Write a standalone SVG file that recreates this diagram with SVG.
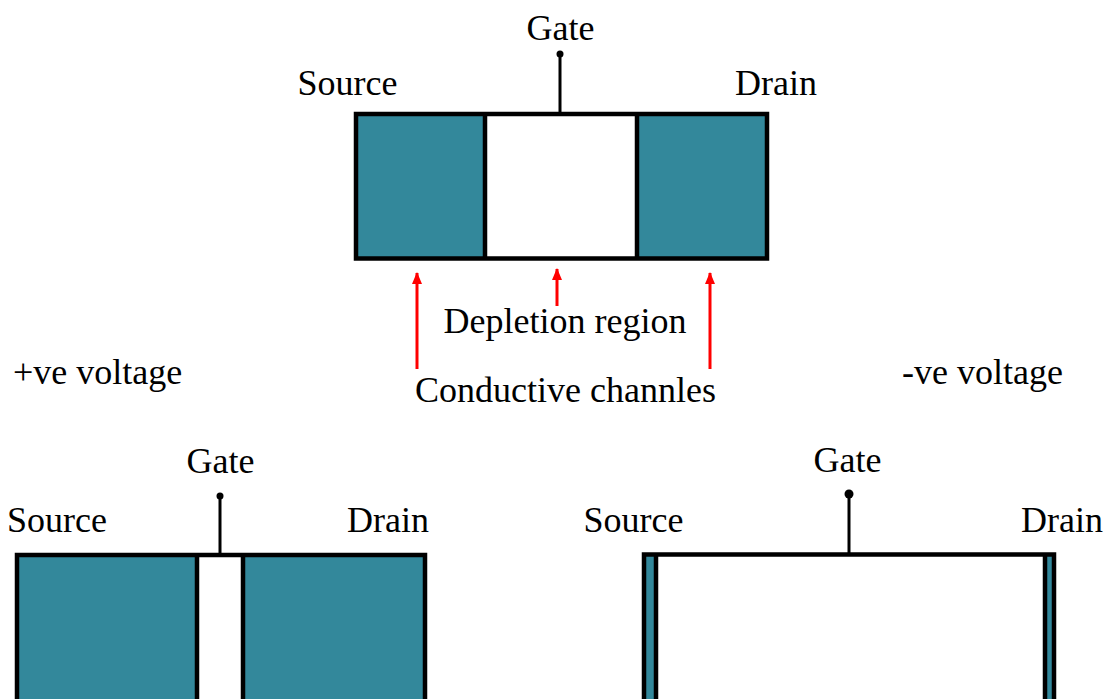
<svg xmlns="http://www.w3.org/2000/svg" width="1114" height="699" viewBox="0 0 1114 699">
<style>
text{font-family:"Liberation Serif","Times New Roman",serif;font-size:36px;fill:#000;text-anchor:middle}
.teal{fill:#33889b;stroke:none}
.white{fill:#fff;stroke:none}
.outline{fill:none;stroke:#000;stroke-width:4.5;stroke-linejoin:miter}
.div{stroke:#000;stroke-width:4.5}
.gate{stroke:#000;stroke-width:3}
.arrow{stroke:#ff0000;stroke-width:3;fill:none;marker-end:url(#ah)}
</style>
<defs>
<marker id="ah" markerUnits="userSpaceOnUse" markerWidth="12" markerHeight="14" viewBox="0 0 12 14" refX="11" refY="5" orient="auto">
<path d="M0,0 L12,5 L0,10 Z" fill="#ff0000"/>
</marker>
</defs>
<rect width="1114" height="699" fill="#fff"/>
<g id="top-device">
<rect class="teal" x="356" y="114" width="129" height="144.5"/>
<rect class="white" x="485" y="114" width="152" height="144.5"/>
<rect class="teal" x="637" y="114" width="130" height="144.5"/>
<rect class="outline" x="356" y="114" width="411" height="144.5"/>
<line class="div" x1="485" y1="114" x2="485" y2="258.5"/>
<line class="div" x1="637" y1="114" x2="637" y2="258.5"/>
<line class="gate" x1="560" y1="54" x2="560" y2="114"/>
<circle cx="560" cy="54" r="3.5"/>
<text x="560.5" y="40">Gate</text>
<text x="347.5" y="95">Source</text>
<text x="776" y="95">Drain</text>
</g>
<g id="labels">
<text x="565" y="333">Depletion region</text>
<text x="565.5" y="402">Conductive channles</text>
<text x="97.5" y="384">+ve voltage</text>
<text x="982.5" y="384">-ve voltage</text>
</g>
<g id="connectors">
<line class="arrow" x1="417" y1="369" x2="417" y2="273"/>
<line class="arrow" x1="557" y1="306" x2="557" y2="269"/>
<line class="arrow" x1="710" y1="369" x2="710" y2="273"/>
</g>
<g id="positive-device">
<rect class="teal" x="17" y="555" width="180" height="170"/>
<rect class="white" x="197" y="555" width="46" height="170"/>
<rect class="teal" x="243" y="555" width="182" height="170"/>
<rect class="outline" x="17" y="555" width="408" height="170"/>
<line class="div" x1="197" y1="555" x2="197" y2="725"/>
<line class="div" x1="243" y1="555" x2="243" y2="725"/>
<line class="gate" x1="220" y1="496" x2="220" y2="555"/>
<circle cx="220" cy="496" r="3.5"/>
<text x="220.5" y="473">Gate</text>
<text x="57" y="532">Source</text>
<text x="388" y="532">Drain</text>
</g>
<g id="negative-device">
<rect class="teal" x="644" y="554.5" width="12" height="170"/>
<rect class="white" x="656" y="554.5" width="389" height="170"/>
<rect class="teal" x="1045" y="554.5" width="9" height="170"/>
<rect class="outline" x="644" y="554.5" width="410" height="170"/>
<line class="div" x1="656" y1="554.5" x2="656" y2="725"/>
<line class="div" x1="1045" y1="554.5" x2="1045" y2="725"/>
<line class="gate" x1="849" y1="494" x2="849" y2="554.5"/>
<circle cx="849" cy="494" r="4.5"/>
<text x="847.5" y="472">Gate</text>
<text x="633.5" y="532">Source</text>
<text x="1062" y="532">Drain</text>
</g>
</svg>
